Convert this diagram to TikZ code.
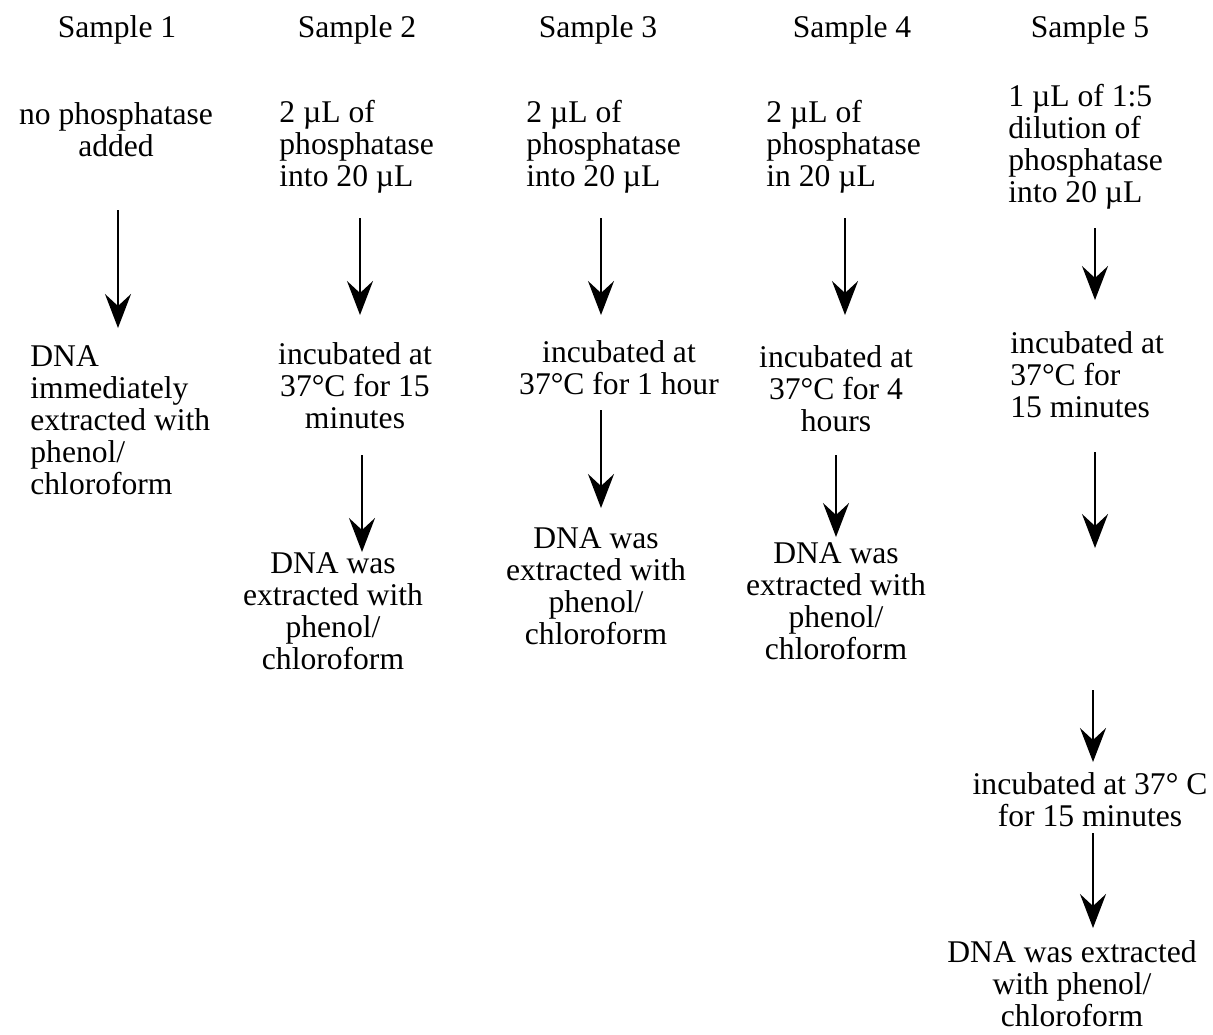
\documentclass[tikz,border=0pt]{standalone}
\usepackage{fontspec}
\setmainfont{Liberation Serif}
\usetikzlibrary{arrows.meta}

\begin{document}
\begin{tikzpicture}[
        x=0.5pt, y=-0.5pt,
        font=\fontsize{15.8}{16}\selectfont,
        head/.style={inner sep=0pt, align=center},
        note/.style={inner sep=0pt, align=center},
        lnote/.style={inner sep=0pt, align=left, anchor=west},
        flow/.style={-{Stealth[length=17pt, width=13pt, inset=6pt]}, line width=1.1pt}
    ]
    \useasboundingbox (0,0) rectangle (1213,1034);

    % sample headers
    \node[head] (h1) at (117,30) {Sample 1};
    \node[head] (h2) at (357,30) {Sample 2};
    \node[head] (h3) at (598,30) {Sample 3};
    \node[head] (h4) at (852,30) {Sample 4};
    \node[head] (h5) at (1090,30) {Sample 5};

    % what went into each tube
    \node[note] (s1top) at (116,130) {no phosphatase\\added};
    \node[lnote] (s2top) at (279,147) {2 µL of\\phosphatase\\into 20 µL};
    \node[lnote] (s3top) at (526,147) {2 µL of\\phosphatase\\into 20 µL};
    \node[lnote] (s4top) at (766,147) {2 µL of\\phosphatase\\in 20 µL};
    \node[lnote] (s5top) at (1008,147) {1 µL of 1:5\\dilution of\\phosphatase\\into 20 µL};

    % incubation
    \node[lnote] (s1dna) at (30,420) {DNA\\immediately\\extracted with\\phenol/\\chloroform};
    \node[note] (s2inc) at (355,386) {incubated at\\37°C for 15\\minutes};
    \node[note] (s3inc) at (619,368) {incubated at\\37°C for 1 hour};
    \node[note] (s4inc) at (836,389) {incubated at\\37°C for 4\\hours};
    \node[lnote] (s5inc) at (1010,375) {incubated at\\37°C for\\15 minutes};

    % extraction
    \node[note] (s2dna) at (333,611) {DNA was\\extracted with\\phenol/\\chloroform};
    \node[note] (s3dna) at (596,586) {DNA was\\extracted with\\phenol/\\chloroform};
    \node[note] (s4dna) at (836,601) {DNA was\\extracted with\\phenol/\\chloroform};
    \node[note] (s5inc2) at (1090,800) {incubated at 37° C\\for 15 minutes};
    \node[note] (s5dna) at (1072,984) {DNA was extracted\\with phenol/\\chloroform};

    % arrow ends
    \coordinate (a1in) at (118,210);  \coordinate (a1out) at (118,328);
    \coordinate (a2in) at (360,218);  \coordinate (a2out) at (360,315);
    \coordinate (a3in) at (601,218);  \coordinate (a3out) at (601,315);
    \coordinate (a4in) at (845,218);  \coordinate (a4out) at (845,315);
    \coordinate (a5in) at (1095,228); \coordinate (a5out) at (1095,300);
    \coordinate (b2in) at (362,455);  \coordinate (b2out) at (362,552);
    \coordinate (b3in) at (601,410);  \coordinate (b3out) at (601,508);
    \coordinate (b4in) at (836,455);  \coordinate (b4out) at (836,537);
    \coordinate (b5in) at (1095,452); \coordinate (b5out) at (1095,548);
    \coordinate (c5in) at (1093,690); \coordinate (c5out) at (1093,762);
    \coordinate (d5in) at (1093,833); \coordinate (d5out) at (1093,928);

    \draw[flow] (a1in) -- (a1out);
    \draw[flow] (a2in) -- (a2out);
    \draw[flow] (a3in) -- (a3out);
    \draw[flow] (a4in) -- (a4out);
    \draw[flow] (a5in) -- (a5out);
    \draw[flow] (b2in) -- (b2out);
    \draw[flow] (b3in) -- (b3out);
    \draw[flow] (b4in) -- (b4out);
    \draw[flow] (b5in) -- (b5out);
    \draw[flow] (c5in) -- (c5out);
    \draw[flow] (d5in) -- (d5out);
\end{tikzpicture}
\end{document}
